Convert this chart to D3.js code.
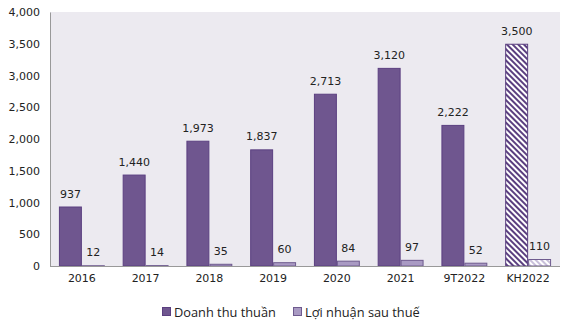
<!DOCTYPE html>
<html><head><meta charset="utf-8">
<script src="https://cdn.jsdelivr.net/npm/d3@7"></script>
<style>body{margin:0;background:#fff}svg{display:block}</style>
</head><body>
<svg id="c" width="574" height="329"></svg>
<script>
const categories = ["2016","2017","2018","2019","2020","2021","9T2022","KH2022"];
const revenue = [937,1440,1973,1837,2713,3120,2222,3500];
const profit = [12,14,35,60,84,97,52,110];
const seriesNames = ["Doanh thu thuần","Lợi nhuận sau thuế"];
const yTicks = [0,500,1000,1500,2000,2500,3000,3500,4000];
const hatchedCategory = "KH2022";

const svg = d3.select("#c");
const m = {l:50, r:14, t:12, b:63};
const W = 574, H = 329;
const x = d3.scaleBand().domain(categories).range([m.l, W-m.r]).paddingInner(0.28).paddingOuter(0.14);
const y = d3.scaleLinear().domain([0,4000]).range([H-m.b, m.t]);
const fmt = d3.format(",");
const cRev = "#6F568F", cProf = "#A99AC3", stroke = "#5B3F80";

const defs = svg.append("defs");
function hatch(id, color){
  const p = defs.append("pattern").attr("id",id).attr("patternUnits","userSpaceOnUse")
    .attr("width",4).attr("height",4).attr("patternTransform","rotate(45)");
  p.append("rect").attr("width",4).attr("height",4).attr("fill","#fff");
  p.append("rect").attr("width",4).attr("height",2).attr("fill",color);
}
hatch("hRev", "#5B3F80");
hatch("hProf", "#C9C0DA");

svg.append("rect").attr("x",m.l).attr("y",m.t).attr("width",W-m.r-m.l).attr("height",H-m.b-m.t).attr("fill","#ECEAF0");

const font = "DejaVu Sans, sans-serif";
const yAxis = svg.append("g").attr("transform",`translate(${m.l},0)`)
  .call(d3.axisLeft(y).tickValues(yTicks).tickFormat(fmt).tickSize(0).tickPadding(10));
yAxis.select(".domain").attr("stroke","#999");
yAxis.selectAll("text").attr("font-family",font).attr("font-size",11).attr("fill","#222");

const sub = d3.scaleBand().domain([0,1]).range([0,x.bandwidth()]);
const g = svg.append("g");
categories.forEach((c,i)=>{
  const hatched = c===hatchedCategory;
  [[revenue[i],cRev,"hRev"],[profit[i],cProf,"hProf"]].forEach(([v,col,pid],j)=>{
    const bx = x(c)+sub(j);
    g.append("rect").attr("x",bx+0.5).attr("y",y(v)+0.5)
      .attr("width",sub.bandwidth()-1).attr("height",y(0)-y(v)-0.5)
      .attr("fill",hatched?`url(#${pid})`:col).attr("stroke",j===0?stroke:"#6E5A8E").attr("stroke-width",1);
    g.append("text").attr("x",bx+sub.bandwidth()/2).attr("y",y(v)-9)
      .attr("text-anchor","middle").attr("font-family",font).attr("font-size",11).attr("fill","#222")
      .text(fmt(v));
  });
});

const xAxis = svg.append("g").attr("transform",`translate(0,${y(0)})`)
  .call(d3.axisBottom(x).tickSize(0).tickPadding(8));
xAxis.select(".domain").attr("stroke","#999").attr("d",`M${m.l},0.5H${W-m.r}`);
xAxis.selectAll("text").attr("font-family",font).attr("font-size",11).attr("fill","#222");

const leg = svg.append("g");
const lx = [162, 293];
seriesNames.forEach((n,i)=>{
  leg.append("rect").attr("x",lx[i]+0.5).attr("y",307.5).attr("width",8).attr("height",8)
    .attr("fill",i===0?cRev:cProf).attr("stroke",i===0?stroke:"#6E5A8E");
  leg.append("text").attr("x",lx[i]+12).attr("y",316.5).attr("font-family","Open Sans, sans-serif")
    .attr("font-size",12.8).attr("fill","#222").text(n);
});
</script>
</body></html>
